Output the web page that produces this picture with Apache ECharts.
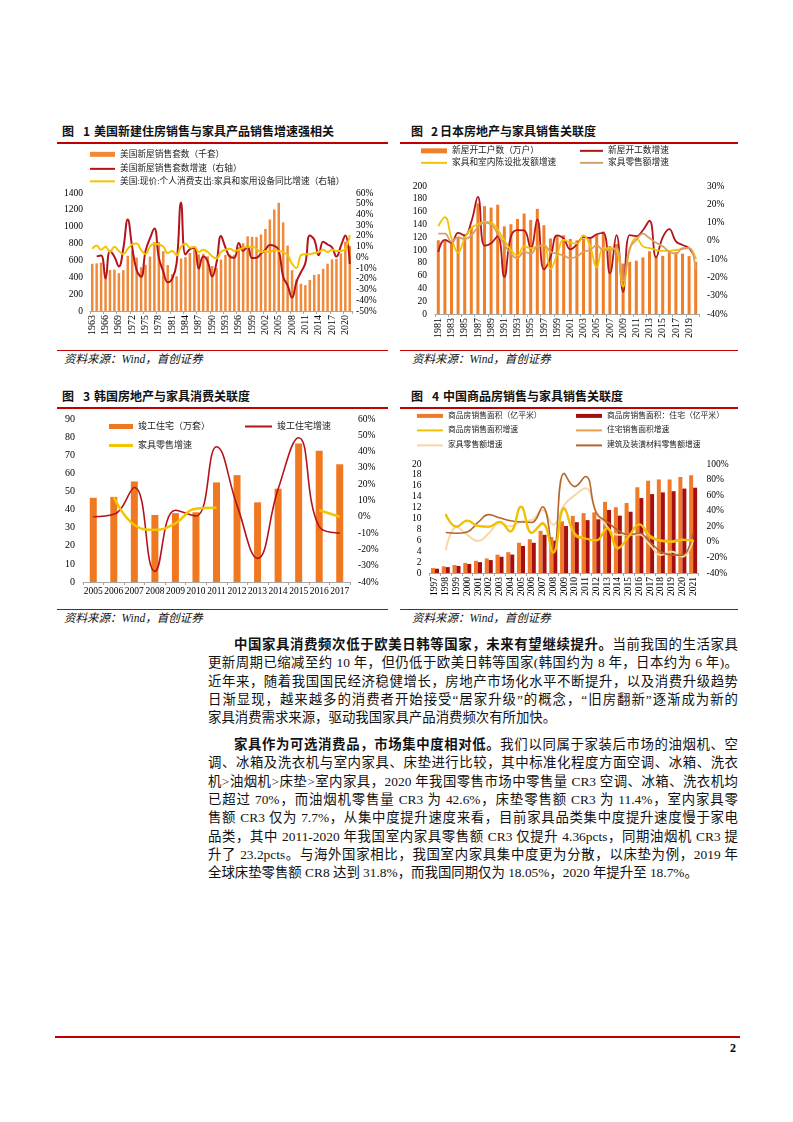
<!DOCTYPE html>
<html><head><meta charset="utf-8">
<script src="https://cdn.jsdelivr.net/npm/echarts/dist/echarts.min.js"></script>
<style>
html,body{margin:0;padding:0;background:#fff;}
#page{position:relative;width:793px;height:1122px;overflow:hidden;background:#fff;}
.t{position:absolute;font-family:"Noto Sans CJK SC",sans-serif;font-weight:bold;font-size:12px;color:#111;white-space:nowrap;line-height:14px}
.src{position:absolute;font-family:"Liberation Serif","Noto Sans CJK SC",serif;font-style:italic;font-size:11.5px;white-space:nowrap;line-height:14px;color:#111}
.rl{position:absolute;background:#C00000;height:1.5px}
.ch{position:absolute}
.p{position:absolute;left:208px;width:530px;font-size:13.4px;line-height:18.33px;font-family:"Liberation Serif","Noto Sans CJK SC",serif;color:#111}
.p div{text-align:justify;text-align-last:justify;white-space:nowrap;height:18.33px}
.p div.last{text-align-last:left}
.p b{font-family:"Liberation Serif","Noto Sans CJK SC",serif;font-weight:bold}
</style></head>
<body><div id="page">
<div class="t" style="left:62px;top:124px">图<span style="margin:0 4px 0 9px">1</span>美国新建住房销售与家具产品销售增速强相关</div>
<div class="rl" style="left:57px;top:142px;width:331px"></div>
<div class="t" style="left:411px;top:124px">图<span style="margin:0 2px 0 8px">2</span>日本房地产与家具销售关联度</div>
<div class="rl" style="left:400px;top:142px;width:338px"></div>
<div id="c1" class="ch" style="left:55px;top:145px;width:335px;height:205px"></div>
<div id="c2" class="ch" style="left:398px;top:145px;width:345px;height:205px"></div>
<div class="rl" style="left:57px;top:349.5px;width:331px"></div>
<div class="rl" style="left:400px;top:349.5px;width:338px"></div>
<div class="src" style="left:64px;top:352px">资料来源：Wind，首创证券</div>
<div class="src" style="left:412px;top:352px">资料来源：Wind，首创证券</div>

<div class="t" style="left:62px;top:389px">图<span style="margin:0 4px 0 9px">3</span>韩国房地产与家具消费关联度</div>
<div class="rl" style="left:57px;top:407px;width:331px"></div>
<div class="t" style="left:411px;top:389px">图<span style="margin:0 4px 0 9px">4</span>中国商品房销售与家具销售关联度</div>
<div class="rl" style="left:400px;top:407px;width:338px"></div>
<div id="c3" class="ch" style="left:55px;top:410px;width:335px;height:198px"></div>
<div id="c4" class="ch" style="left:398px;top:410px;width:345px;height:198px"></div>
<div class="rl" style="left:57px;top:608.5px;width:331px"></div>
<div class="rl" style="left:400px;top:608.5px;width:338px"></div>
<div class="src" style="left:64px;top:611px">资料来源：Wind，首创证券</div>
<div class="src" style="left:412px;top:611px">资料来源：Wind，首创证券</div>

<div class="p" style="top:636px">
<div style="padding-left:26px"><b>中国家具消费频次低于欧美日韩等国家，未来有望继续提升。</b>当前我国的生活家具</div>
<div>更新周期已缩减至约 10 年，但仍低于欧美日韩等国家(韩国约为 8 年，日本约为 6 年)。</div>
<div>近年来，随着我国国民经济稳健增长，房地产市场化水平不断提升，以及消费升级趋势</div>
<div>日渐显现，越来越多的消费者开始接受“居家升级”的概念，“旧房翻新”逐渐成为新的</div>
<div class="last">家具消费需求来源，驱动我国家具产品消费频次有所加快。</div>
</div>
<div class="p" style="top:736px">
<div style="padding-left:26px"><b>家具作为可选消费品，市场集中度相对低。</b>我们以同属于家装后市场的油烟机、空</div>
<div>调、冰箱及洗衣机与室内家具、床垫进行比较，其中标准化程度方面空调、冰箱、洗衣</div>
<div>机&gt;油烟机&gt;床垫&gt;室内家具，2020 年我国零售市场中零售量 CR3 空调、冰箱、洗衣机均</div>
<div>已超过 70%，而油烟机零售量 CR3 为 42.6%，床垫零售额 CR3 为 11.4%，室内家具零</div>
<div>售额 CR3 仅为 7.7%，从集中度提升速度来看，目前家具品类集中度提升速度慢于家电</div>
<div>品类，其中 2011-2020 年我国室内家具零售额 CR3 仅提升 4.36pcts，同期油烟机 CR3 提</div>
<div>升了 23.2pcts。与海外国家相比，我国室内家具集中度更为分散，以床垫为例，2019 年</div>
<div class="last">全球床垫零售额 CR8 达到 31.8%，而我国同期仅为 18.05%，2020 年提升至 18.7%。</div>
</div>

<div class="rl" style="left:55px;top:1036px;width:685px;height:2px"></div>
<div style="position:absolute;left:730px;top:1041px;font-family:'Liberation Serif',serif;font-weight:bold;font-size:12px;line-height:14px">2</div>
</div>
<script>
// ---------- Chart 1: US ----------
const usYears = ['1963','1964','1965','1966','1967','1968','1969','1970','1971','1972','1973','1974','1975','1976','1977','1978','1979','1980','1981','1982','1983','1984','1985','1986','1987','1988','1989','1990','1991','1992','1993','1994','1995','1996','1997','1998','1999','2000','2001','2002','2003','2004','2005','2006','2007','2008','2009','2010','2011','2012','2013','2014','2015','2016','2017','2018','2019','2020','2021'];
const usSales = [560,565,575,461,487,490,448,485,656,718,634,519,549,646,819,817,709,545,436,412,623,639,688,750,671,676,650,534,509,610,666,670,667,757,804,886,880,877,908,973,1086,1203,1283,1051,776,485,375,323,306,368,429,437,501,561,613,617,683,822,771];
const usSalesGrowth = [null,0.9,1.8,-19.8,5.6,0.6,-8.6,8.3,35.3,9.5,-11.7,-18.1,5.8,17.7,26.8,-0.2,-13.2,-23.1,-20.0,-5.5,51.2,2.6,7.7,9.0,-10.5,0.7,-3.8,-17.8,-4.7,19.8,9.2,0.6,-0.4,13.5,6.2,10.2,-0.7,-0.3,3.5,7.2,11.6,10.8,6.7,-18.1,-26.2,-37.5,-22.7,-13.9,-5.3,20.3,16.6,1.9,14.6,12.0,9.3,0.7,10.7,20.4,-6.2];
const usFurnGrowth = [8,11,7,10,5,10,6,3,8,12,13,7,3,10,13,12,10,4,6,2,10,13,9,10,5,7,5,1,-1,5,7,8,6,7,9,10,10,8,5,6,5,7,6,5,2,-6,-10,2,3,3,4,5,7,5,7,6,6,8,21];
const usNames = ['美国新屋销售套数（千套）','美国新屋销售套数增速（右轴）','美国:现价:个人消费支出:家具和家用设备同比增速（右轴）'];

// ---------- Chart 2: Japan ----------
const jpYears = ['1981','1982','1983','1984','1985','1986','1987','1988','1989','1990','1991','1992','1993','1994','1995','1996','1997','1998','1999','2000','2001','2002','2003','2004','2005','2006','2007','2008','2009','2010','2011','2012','2013','2014','2015','2016','2017','2018','2019','2020'];
const jpStarts = [115.2,114.6,113.7,118.7,123.6,136.4,172.9,168.5,166.3,170.7,137.0,140.3,148.6,157.0,147.0,164.3,138.7,118.0,121.5,123.0,117.3,115.1,117.4,119.3,123.6,129.0,106.1,109.4,78.8,81.3,83.4,88.3,98.0,89.2,90.9,96.7,96.5,94.2,90.5,81.5];
const jpStartsGrowth = [-6,0.5,-1,4.4,3,10.4,24,-2.6,-1.3,2.6,-19.7,2.4,5.9,5.7,-4,11.8,-15.6,-9,3,1.2,-4.6,-1.9,2,1.6,3.6,4.4,-17.8,3.1,-27.9,3.1,2.6,5.8,11,-9,1.9,6.4,-0.3,-2.3,-4,-9.9];
const jpWholesaleGrowth = [8,13,1.5,-6.5,1.5,7,9,10.5,10,6,0.5,-5,-8,-3,-4,-3,-2.5,-15.5,-7.5,0.5,-1,-1.5,3,-3,-14.5,-4,-4,-5,-25,-5,1.5,-3,-4,-5,-5.5,-5.5,-5,-4.5,-4,-10];
const jpRetailGrowth = [4,4,-0.5,2,1,3,7.5,10,9,4,-2,-7,-9.5,-6,-7,-3,-2.5,-6,-7,-8,-9.5,-8.5,-6,-5,-2.5,-5,-5,-4,-22,-4,0.5,4,1.5,-1,-3,-6,-7,-4,-4,-16];
const jpNames = ['新屋开工户数（万户）','新屋开工数增速','家具和室内陈设批发额增速','家具零售额增速'];

// ---------- Chart 3: Korea ----------
const krYears = ['2005','2006','2007','2008','2009','2010','2011','2012','2013','2014','2015','2016','2017'];
const krCompleted = [46.5,47,55.5,37,38,38.5,55,59,44,51.5,76.5,72.5,65];
const krCompletedGrowth = [0,1.5,18,-33.5,4,0.5,43,7,-25.5,17,48.5,-6,-10];
const krFurnGrowth = [null,12,-5,-8,-4,5,5.5,null,null,null,null,4,0];
const krNames = ['竣工住宅（万套）','竣工住宅增速','家具零售增速'];

// ---------- Chart 4: China ----------
const cnYears = ['1997','1998','1999','2000','2001','2002','2003','2004','2005','2006','2007','2008','2009','2010','2011','2012','2013','2014','2015','2016','2017','2018','2019','2020','2021'];
const cnArea = [0.90,1.22,1.46,1.86,2.24,2.68,3.37,3.82,5.55,6.19,7.74,6.60,9.48,10.48,10.99,11.13,13.06,12.06,12.85,15.73,16.94,17.17,17.16,17.61,17.94];
const cnResArea = [0.79,1.08,1.30,1.66,1.99,2.37,2.98,3.38,4.96,5.54,7.01,5.93,8.62,9.33,9.70,9.85,11.57,10.52,11.24,13.75,14.48,14.79,15.01,15.49,15.65];
const cnAreaGrowth = [null,35.2,19.2,27.3,20.5,19.6,25.8,13.4,45.3,11.5,23.2,-14,42.1,10.6,4.4,1.8,17.3,-7.6,6.5,22.5,7.7,1.3,-0.1,2.6,1.9];
const cnResGrowth = [null,36,20,27.5,20,19,26,13.5,45,11.8,24.5,-13,43.9,8.3,3.9,2,17.5,-9.1,6.9,22.4,5.3,2.2,1.5,3.2,1.1];
const cnFurnGrowth = [null,-11,19,9,1,11,24,20,26,28,41,22,47,60,69,39,19.5,9,9,9.5,-4,-17,-12.5,-19,2.5];
const cnBuildGrowth = [null,12,11,12.8,25,35,31,27,25.6,24.8,45,-13.7,88,71,84,37,26,15,9,11,-0.5,-12.6,-17,-17,12];
const cnNames = ['商品房销售面积（亿平米）','商品房销售面积：住宅（亿平米）','商品房销售面积增速','住宅销售面积增速','家具零售额增速','建筑及装潢材料零售额增速'];

const FF = "'Liberation Serif','Noto Sans CJK SC',serif";
function lg(left, top, name, w, h, fs){
  return {left:left, top:top, padding:0, itemWidth:w, itemHeight:h, itemGap:0, selectedMode:false,
    textStyle:{fontSize:fs, color:'#222', fontFamily:FF}, data:[{name:name, icon:'rect'}]};
}
function xCat(data, interval, rotate, fs, margin){
  return {type:'category', data:data,
    axisLine:{lineStyle:{color:'#A6A6A6', width:1}},
    axisTick:{show:true, length:3, lineStyle:{color:'#A6A6A6'}},
    axisLabel:{interval:interval, rotate:rotate, fontSize:fs, color:'#000', margin:margin, fontFamily:FF}};
}
function yVal(min, max, interval, fs, margin, pct){
  return {type:'value', min:min, max:max, interval:interval,
    splitLine:{show:false}, axisLine:{show:false}, axisTick:{show:false},
    axisLabel:{fontSize:fs, color:'#000', margin:margin, fontFamily:FF,
      formatter: function(v){ return pct ? (String(v) + '%') : String(v); }}};
}
function ln(name, data, color, width, z){
  return {name:name, type:'line', yAxisIndex:1, data:data, smooth:0.45, showSymbol:false, connectNulls:false,
    lineStyle:{width:width, color:color}, itemStyle:{color:color}, z:z||2};
}

const c1 = echarts.init(document.getElementById('c1'));
c1.setOption({
  animation:false, textStyle:{fontFamily:FF},
  legend:[
    lg(35, 5, usNames[0], 25, 5, 8.7),
    lg(35, 19.5, usNames[1], 25, 2, 8.7),
    lg(35, 32, usNames[2], 25, 2, 8.7)
  ],
  grid:{left:35, right:38, top:48, bottom:39},
  xAxis: xCat(usYears, 2, 90, 10, 4),
  yAxis:[ yVal(0,1400,200,9.5,7,false), yVal(-50,60,10,9.5,4,true) ],
  series:[
    {name:usNames[0], type:'bar', data:usSales, barWidth:2.5, itemStyle:{color:'#F08A3A'}},
    ln(usNames[1], usSalesGrowth, '#B3141C', 2),
    ln(usNames[2], usFurnGrowth, '#F5C400', 2)
  ]
});

const c2 = echarts.init(document.getElementById('c2'));
c2.setOption({
  animation:false, textStyle:{fontFamily:FF},
  legend:[
    lg(23, 1.5, jpNames[0], 26, 5, 8.7),
    lg(182, 1.5, jpNames[1], 23, 2, 8.7),
    lg(23, 13.5, jpNames[2], 26, 2, 8.7),
    lg(182, 13.5, jpNames[3], 23, 2, 8.7)
  ],
  grid:{left:37, right:44, top:41, bottom:36},
  xAxis: xCat(jpYears, 1, 90, 10, 4),
  yAxis:[ yVal(0,200,20,9.5,8,false), yVal(-40,30,10,9.5,8,true) ],
  series:[
    {name:jpNames[0], type:'bar', data:jpStarts, barWidth:3, itemStyle:{color:'#F07F2A'}},
    ln(jpNames[1], jpStartsGrowth, '#B3141C', 1.8),
    ln(jpNames[2], jpWholesaleGrowth, '#F5C400', 1.8),
    ln(jpNames[3], jpRetailGrowth, '#D6A06A', 1.8)
  ]
});

const c3 = echarts.init(document.getElementById('c3'));
c3.setOption({
  animation:false, textStyle:{fontFamily:FF},
  legend:[
    lg(54, 12, krNames[0], 24, 5, 9),
    lg(190, 12, krNames[1], 27, 2, 9),
    lg(54, 31, krNames[2], 24, 3, 9)
  ],
  grid:{left:28, right:40, top:9, bottom:26},
  xAxis: xCat(krYears, 0, 0, 9.5, 5),
  yAxis:[ yVal(0,90,10,10,8,false), yVal(-40,60,10,9.5,8,true) ],
  series:[
    {name:krNames[0], type:'bar', data:krCompleted, barWidth:7, itemStyle:{color:'#F07820'}},
    ln(krNames[1], krCompletedGrowth, '#B3141C', 1.6),
    ln(krNames[2], krFurnGrowth, '#F5C400', 2.5)
  ]
});

const c4 = echarts.init(document.getElementById('c4'));
c4.setOption({
  animation:false, textStyle:{fontFamily:FF},
  legend:[
    lg(19, 2, cnNames[0], 26, 4, 7.8),
    lg(178, 2, cnNames[1], 26, 4, 7.8),
    lg(19, 16.5, cnNames[2], 26, 2, 7.8),
    lg(178, 16.5, cnNames[3], 26, 2, 7.8),
    lg(19, 31.5, cnNames[4], 26, 2, 7.8),
    lg(178, 31.5, cnNames[5], 26, 2, 7.8)
  ],
  grid:{left:31.6, right:44.5, top:54, bottom:35},
  xAxis: xCat(cnYears, 0, 90, 9.5, 4),
  yAxis:[ yVal(0,20,2,9.5,8,false), yVal(-40,100,20,9.5,8,true) ],
  series:[
    {name:cnNames[0], type:'bar', data:cnArea, barWidth:4, barGap:'0%', itemStyle:{color:'#F07A28'}},
    {name:cnNames[1], type:'bar', data:cnResArea, barWidth:4, barGap:'0%', itemStyle:{color:'#A50F0F'}},
    ln(cnNames[2], cnAreaGrowth, '#F2C200', 2.2, 4),
    ln(cnNames[3], cnResGrowth, '#E9A04A', 1.6, 3),
    ln(cnNames[4], cnFurnGrowth, '#F7D7A6', 2, 2),
    ln(cnNames[5], cnBuildGrowth, '#B3662C', 1.6, 2)
  ]
});
</script>
</body></html>
